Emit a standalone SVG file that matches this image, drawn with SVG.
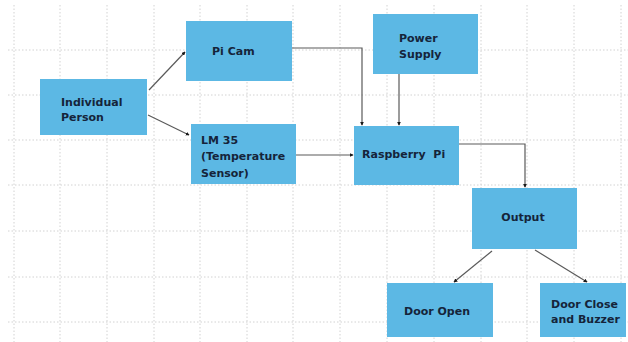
<svg xmlns="http://www.w3.org/2000/svg" width="628" height="342" viewBox="0 0 628 342">
<defs>
<style>
.grid line{stroke:#d2d2d2;stroke-width:1;stroke-dasharray:1.5 2}
.box{fill:#5cb8e4}
.t{font-family:"DejaVu Sans",sans-serif;font-weight:bold;font-size:11px;fill:#15243a}
.c{fill:none;stroke:#5a5a5a;stroke-width:1.2;marker-end:url(#ah)}
</style>
<marker id="ah" viewBox="0 0 6 6" refX="5" refY="3" markerWidth="4" markerHeight="4" orient="auto" markerUnits="userSpaceOnUse">
<path d="M0,0 L6,3 L0,6 z" fill="#1a1a1a"/>
</marker>
</defs>
<rect width="628" height="342" fill="#ffffff"/>
<g class="grid">
<line x1="14" y1="5" x2="14" y2="342"/>
<line x1="60" y1="5" x2="60" y2="342"/>
<line x1="107" y1="5" x2="107" y2="342"/>
<line x1="154" y1="5" x2="154" y2="342"/>
<line x1="200" y1="5" x2="200" y2="342"/>
<line x1="247" y1="5" x2="247" y2="342"/>
<line x1="293" y1="5" x2="293" y2="342"/>
<line x1="340" y1="5" x2="340" y2="342"/>
<line x1="387" y1="5" x2="387" y2="342"/>
<line x1="434" y1="5" x2="434" y2="342"/>
<line x1="481" y1="5" x2="481" y2="342"/>
<line x1="527" y1="5" x2="527" y2="342"/>
<line x1="574" y1="5" x2="574" y2="342"/>
<line x1="621" y1="5" x2="621" y2="342"/>
<line x1="8" y1="50" x2="628" y2="50"/>
<line x1="8" y1="95" x2="628" y2="95"/>
<line x1="8" y1="140" x2="628" y2="140"/>
<line x1="8" y1="185" x2="628" y2="185"/>
<line x1="8" y1="231" x2="628" y2="231"/>
<line x1="8" y1="277" x2="628" y2="277"/>
<line x1="8" y1="322" x2="628" y2="322"/>
</g>
<g id="connectors">
<path class="c" d="M149,90 L185,52"/>
<path class="c" d="M148,115 L189,135"/>
<path class="c" d="M292,48 H362 V125"/>
<path class="c" d="M399,74 V125"/>
<path class="c" d="M296,155 H353"/>
<path class="c" d="M459,144 H525 V187"/>
<path class="c" d="M492,251 L454,282"/>
<path class="c" d="M535,250 L587,282"/>
</g>
<g id="individual-person">
<rect class="box" x="40" y="79" width="107" height="56"/>
<text class="t" x="61" y="106">Individual</text>
<text class="t" x="61" y="121">Person</text>
</g>
<g id="pi-cam">
<rect class="box" x="186" y="21" width="106" height="60"/>
<text class="t" x="212" y="55">Pi Cam</text>
</g>
<g id="lm35">
<rect class="box" x="191" y="124" width="105" height="60"/>
<text class="t" x="201" y="144">LM 35</text>
<text class="t" x="201" y="160">(Temperature</text>
<text class="t" x="201" y="177">Sensor)</text>
</g>
<g id="power-supply">
<rect class="box" x="373" y="14" width="105" height="60"/>
<text class="t" x="399" y="42">Power</text>
<text class="t" x="399" y="58">Supply</text>
</g>
<g id="raspberry-pi">
<rect class="box" x="354" y="126" width="105" height="59"/>
<text class="t" x="362" y="158" xml:space="preserve">Raspberry  Pi</text>
</g>
<g id="output">
<rect class="box" x="472" y="188" width="105" height="61"/>
<text class="t" x="523" y="221" text-anchor="middle">Output</text>
</g>
<g id="door-open">
<rect class="box" x="387" y="283" width="106" height="54"/>
<text class="t" x="404" y="315">Door Open</text>
</g>
<g id="door-close">
<rect class="box" x="540" y="283" width="86" height="54"/>
<text class="t" x="551" y="308">Door Close</text>
<text class="t" x="551" y="323">and Buzzer</text>
</g>
</svg>
